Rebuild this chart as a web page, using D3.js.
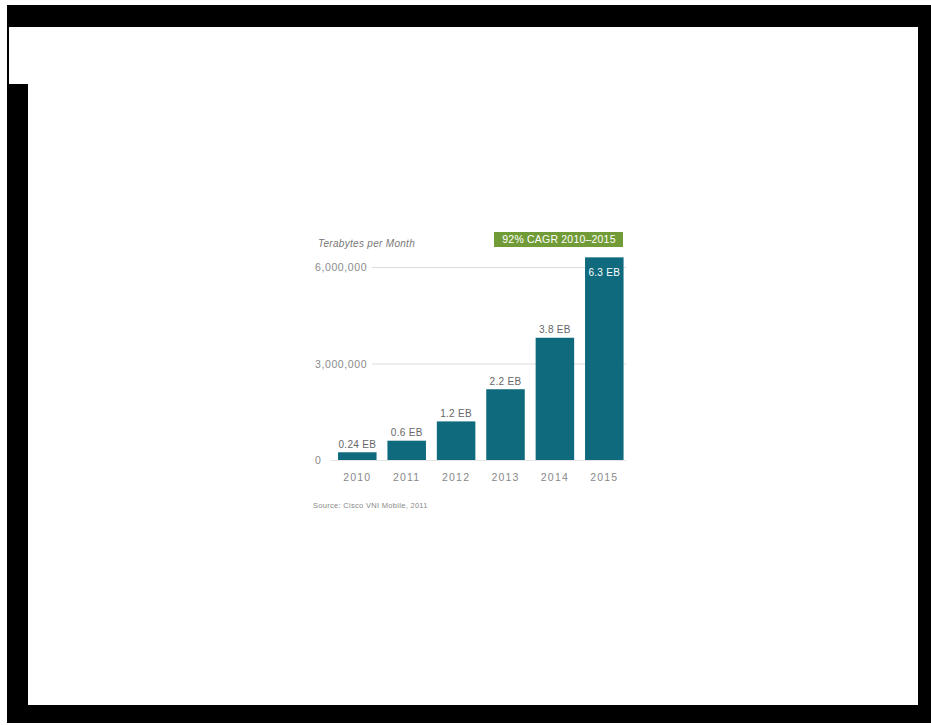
<!DOCTYPE html>
<html>
<head>
<meta charset="utf-8">
<script src="https://cdn.jsdelivr.net/npm/d3@7"></script>
<style>
  html, body { margin: 0; padding: 0; background: #ffffff; }
  svg { display: block; }
  text { font-family: "Liberation Sans", Arial, sans-serif; }
</style>
</head>
<body>
<svg id="chart" width="931" height="725"></svg>
<script>
// Mobile data traffic, terabytes per month
const years = ["2010", "2011", "2012", "2013", "2014", "2015"];
const trafficEB = [0.24, 0.6, 1.2, 2.2, 3.8, 6.3];
const valueLabels = ["0.24 EB", "0.6 EB", "1.2 EB", "2.2 EB", "3.8 EB", "6.3 EB"];
const yTicks = [0, 3000000, 6000000];
const yTickLabels = ["0", "3,000,000", "6,000,000"];
const axisTitle = "Terabytes per Month";
const badgeText = "92% CAGR 2010–2015";
const sourceText = "Source: Cisco VNI Mobile, 2011";

const svg = d3.select("#chart");

// Page frame
const frame = svg.append("g");
frame.append("rect").attr("x", 7).attr("y", 5).attr("width", 924).attr("height", 22).attr("fill", "#000");
frame.append("rect").attr("x", 7).attr("y", 5).attr("width", 2).attr("height", 80).attr("fill", "#000");
frame.append("rect").attr("x", 7).attr("y", 84).attr("width", 21).attr("height", 639).attr("fill", "#000");
frame.append("rect").attr("x", 918).attr("y", 5).attr("width", 13).attr("height", 718).attr("fill", "#000");
frame.append("rect").attr("x", 7).attr("y", 705).attr("width", 924).attr("height", 18).attr("fill", "#000");

// Scales
const x = d3.scaleBand().domain(years).range([332.6, 629]).paddingInner(0.22).paddingOuter(0.11);
const y = d3.scaleLinear().domain([0, 6000000]).range([460, 267]);

const data = years.map((yr, i) => ({ year: yr, tb: trafficEB[i] * 1e6, label: valueLabels[i] }));

// Gridlines
const grid = svg.append("g");
grid.selectAll("line")
  .data(yTicks)
  .join("line")
  .attr("x1", d => d === 0 ? 330 : 372)
  .attr("x2", 626)
  .attr("y1", d => y(d) + 0.5)
  .attr("y2", d => y(d) + 0.5)
  .attr("stroke", d => d === 0 ? "#e6e6e6" : "#dcdcdc")
  .attr("stroke-width", 1);

// Y axis labels
const yAxis = d3.axisLeft(y).tickValues(yTicks).tickFormat((d, i) => yTickLabels[i]).tickSize(0);
const yG = svg.append("g").attr("transform", "translate(315,0)").call(yAxis);
yG.select(".domain").remove();
yG.selectAll("text")
  .attr("text-anchor", "start")
  .attr("x", 0)
  .attr("dy", "0.35em")
  .attr("fill", "#8a8a8a")
  .style("font-size", "10.5px")
  .style("letter-spacing", "0.6px")
  .style("font-family", "'Liberation Sans', Arial, sans-serif");

// Axis title
svg.append("text")
  .attr("x", 318)
  .attr("y", 247)
  .attr("fill", "#777")
  .style("font-size", "10px")
  .style("font-style", "italic")
  .style("letter-spacing", "0.3px")
  .text(axisTitle);

// CAGR badge
svg.append("rect")
  .attr("x", 494).attr("y", 232).attr("width", 129).attr("height", 15)
  .attr("fill", "#719b36");
svg.append("text")
  .attr("x", 559).attr("y", 239.5)
  .attr("dy", "0.35em")
  .attr("text-anchor", "middle")
  .attr("fill", "#ffffff")
  .style("font-size", "10.5px")
  .style("letter-spacing", "0.2px")
  .text(badgeText);

// Bars
svg.append("g").selectAll("rect")
  .data(data)
  .join("rect")
  .attr("x", d => x(d.year))
  .attr("width", x.bandwidth())
  .attr("y", d => y(d.tb))
  .attr("height", d => y(0) - y(d.tb))
  .attr("fill", "#0f6a7e");

// Value labels: above the bar, or inside when it reaches the top
svg.append("g").selectAll("text")
  .data(data)
  .join("text")
  .attr("x", d => x(d.year) + x.bandwidth() / 2)
  .attr("y", d => d.tb > 6000000 ? y(d.tb) + 15 : y(d.tb) - 8)
  .attr("dy", "0.35em")
  .attr("text-anchor", "middle")
  .attr("fill", d => d.tb > 6000000 ? "#ffffff" : "#666")
  .style("font-size", "10px")
  .style("letter-spacing", "0.3px")
  .text(d => d.label);

// X axis labels
const xAxis = d3.axisBottom(x).tickSize(0);
const xG = svg.append("g").attr("transform", "translate(0,460)").call(xAxis);
xG.select(".domain").remove();
xG.selectAll("text")
  .attr("y", 17)
  .attr("dy", "0.35em")
  .attr("fill", "#888")
  .style("font-size", "10.5px")
  .style("letter-spacing", "1.2px")
  .style("font-family", "'Liberation Sans', Arial, sans-serif");

// Source note
svg.append("text")
  .attr("x", 313)
  .attr("y", 505)
  .attr("dy", "0.35em")
  .attr("fill", "#888")
  .style("font-size", "7.5px")
  .style("letter-spacing", "0.3px")
  .text(sourceText);
</script>
</body>
</html>
